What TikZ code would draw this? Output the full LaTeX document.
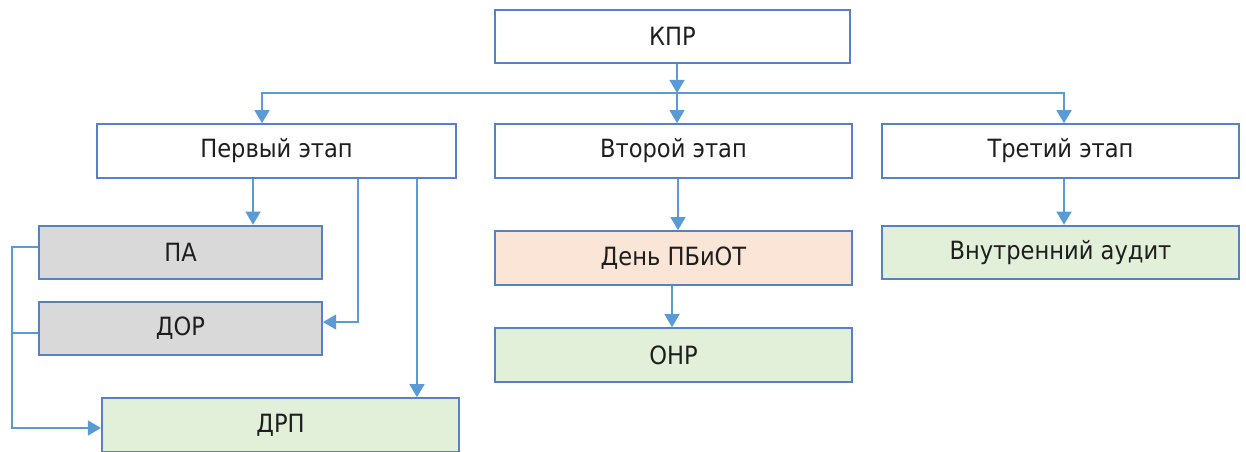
\documentclass[tikz,border=0pt]{standalone}
\usepackage{fontspec}
\setmainfont{DejaVu Sans Condensed}
\usetikzlibrary{arrows.meta}

\definecolor{boxline}{RGB}{84,130,196}
\definecolor{arrline}{RGB}{91,155,213}
\definecolor{grayfill}{RGB}{217,217,217}
\definecolor{peachfill}{RGB}{251,229,214}
\definecolor{greenfill}{RGB}{226,240,217}
\definecolor{txt}{RGB}{30,30,30}

\tikzset{
  stage/.style={draw=boxline, line width=1.2pt, minimum height=1.07cm, inner sep=0pt,
    text=txt, font=\fontsize{14.3}{16}\selectfont},
  arr/.style={draw=arrline, line width=1.2pt, -{Triangle[width=8.5pt,length=7.5pt]}},
  ln/.style={draw=arrline, line width=1.2pt}
}

\begin{document}
\begin{tikzpicture}[x=0.02cm, y=-0.02cm]

        \useasboundingbox (0,0) rectangle (1246,451);

        \node[stage, minimum width=7.1cm] (kpr) at (672.5,36.5) {КПР};

        \node[stage, minimum width=7.18cm] (first) at (276.5,151) {Первый этап};
        \node[stage, minimum width=7.14cm] (second) at (673.5,151) {Второй этап};
        \node[stage, minimum width=7.14cm] (third) at (1060.5,151) {Третий этап};

        \node[stage, fill=grayfill, minimum width=5.66cm] (pa) at (180.5,252.5) {ПА};
        \node[stage, fill=grayfill, minimum width=5.66cm] (dor) at (180.5,328.5) {ДОР};
        \node[stage, fill=greenfill, minimum width=7.14cm] (drp) at (280.5,425) {ДРП};

        \node[stage, fill=peachfill, minimum width=7.14cm] (day) at (673.5,258) {День ПБиОТ};
        \node[stage, fill=greenfill, minimum width=7.14cm] (onr) at (673.5,355) {ОНР};

        \node[stage, fill=greenfill, minimum width=7.14cm] (audit) at (1060.5,252.5) {Внутренний аудит};

        % bus under the top box
        \coordinate (bus) at (677,93);
        \draw[arr] (kpr.south -| bus) -- (bus);
        \draw[arr] (bus) -- (second.north -| bus);
        \draw[arr] (bus) -| ([xshift=-0.29cm]first.north);
        \draw[arr] (bus) -| ([xshift=0.07cm]third.north);

        % first stage
        \coordinate (f1) at ([xshift=-0.47cm]first.south);
        \coordinate (f2) at ([xshift=1.63cm]first.south);
        \coordinate (f3) at ([xshift=2.81cm]first.south);
        \draw[arr] (f1) -- (f1 |- pa.north);
        \draw[arr] (f2) |- ([yshift=0.13cm]dor.east);
        \draw[arr] (f3) -- (f3 |- drp.north);

        \coordinate (pa-out) at ([yshift=0.11cm]pa.west);
        \coordinate (dor-out) at ([yshift=-0.09cm]dor.west);
        \coordinate (drp-in) at ([yshift=-0.06cm]drp.west);
        \coordinate (loop) at (12,0);
        \draw[arr] (pa-out) -| (loop |- drp-in) -- (drp-in);
        \draw[ln] (dor-out) -- (dor-out -| loop);

        % second and third stage
        \draw[arr] ([xshift=0.09cm]second.south) -- ([xshift=0.09cm]day.north);
        \draw[arr] ([xshift=-0.03cm]day.south) -- ([xshift=-0.03cm]onr.north);
        \draw[arr] ([xshift=0.07cm]third.south) -- ([xshift=0.07cm]audit.north);

      \end{tikzpicture}
\end{document}
